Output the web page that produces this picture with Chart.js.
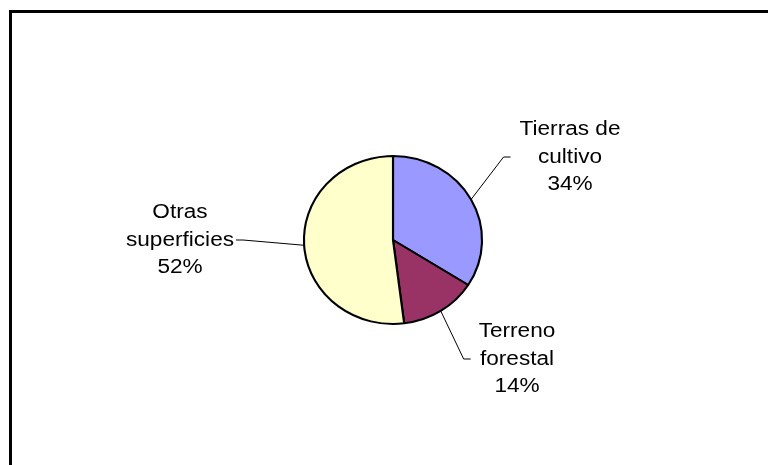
<!DOCTYPE html>
<html>
<head>
<meta charset="utf-8">
<script src="https://cdn.jsdelivr.net/npm/chart.js@4/dist/chart.umd.min.js"></script>
<style>
  html, body { margin: 0; padding: 0; background: #fff; }
  #wrap { position: relative; width: 768px; height: 465px; overflow: hidden; }
  #frame {
    position: absolute; left: 9px; top: 10px; right: -10px; bottom: -10px;
    border-left: 3px solid #000; border-top: 3px solid #000;
  }
  canvas { position: absolute; left: 0; top: 0; }
</style>
</head>
<body>
<div id="wrap">
  <div id="frame"></div>
  <canvas id="pieChart" width="768" height="465"></canvas>
</div>
<script>
const categories = [
  ["Tierras de", "cultivo"],
  ["Terreno", "forestal"],
  ["Otras", "superficies"]
];
const shares = [34, 14, 52];
const sliceColors = ["#9999FF", "#993366", "#FFFFCC"];

// where each label sits, relative to the pie centre, and the gap to its leader line
const labelSpots = [
  { dx: 177, dy: -83, gap: 9 },
  { dx: 124, dy: 119, gap: 8 },
  { dx: -213, dy: 0, gap: 2 }
];

const pieStretch = 1.06;
const textStretch = 1.13;
const lineHeight = 27.5;

const calloutPlugin = {
  id: "callouts",
  beforeDatasetsDraw(chart) {
    const arc = chart.getDatasetMeta(0).data[0];
    const ctx = chart.ctx;
    ctx.save();
    ctx.translate(arc.x, arc.y);
    ctx.scale(pieStretch, 1);
    ctx.translate(-arc.x, -arc.y);
  },
  afterDatasetsDraw(chart) {
    const ctx = chart.ctx;
    ctx.restore();

    const total = shares.reduce((a, b) => a + b, 0);
    const arcs = chart.getDatasetMeta(0).data;

    ctx.save();
    ctx.font = "20px 'Liberation Sans', Arial, sans-serif";
    ctx.fillStyle = "#000";
    ctx.strokeStyle = "#000";
    ctx.lineWidth = 1;
    ctx.textAlign = "center";
    ctx.textBaseline = "middle";

    arcs.forEach((arc, i) => {
      const lines = categories[i].concat(Math.round(shares[i] / total * 100) + "%");
      const spot = labelSpots[i];
      const lx = arc.x + spot.dx;
      const ly = arc.y + spot.dy;

      const widest = Math.max(...lines.map((t) => ctx.measureText(t).width)) * textStretch;
      const mid = (arc.startAngle + arc.endAngle) / 2;
      const r = arc.outerRadius;
      const ex = arc.x + Math.cos(mid) * r * pieStretch;
      const ey = arc.y + Math.sin(mid) * r;

      const side = spot.dx > 0 ? -1 : 1;
      const endX = lx + side * (widest / 2 + spot.gap);
      const bendX = endX + side * 7;

      ctx.beginPath();
      ctx.moveTo(ex, ey);
      ctx.lineTo(bendX, ly);
      ctx.lineTo(endX, ly);
      ctx.stroke();

      lines.forEach((t, k) => {
        const ty = ly + (k - 1) * lineHeight;
        ctx.save();
        ctx.translate(lx, ty);
        ctx.scale(textStretch, 1);
        ctx.fillText(t, 0, 0);
        ctx.restore();
      });
    });
    ctx.restore();
  }
};

new Chart(document.getElementById("pieChart"), {
  type: "pie",
  data: {
    labels: categories.map((c) => c.join(" ")),
    datasets: [{
      data: shares,
      backgroundColor: sliceColors,
      borderColor: "#000",
      borderWidth: 2,
      clip: false
    }]
  },
  options: {
    responsive: false,
    animation: false,
    events: [],
    layout: {
      padding: { top: 155, bottom: 140, left: 273, right: 255 }
    },
    plugins: {
      legend: { display: false },
      tooltip: { enabled: false }
    }
  },
  plugins: [calloutPlugin]
});
</script>
</body>
</html>
